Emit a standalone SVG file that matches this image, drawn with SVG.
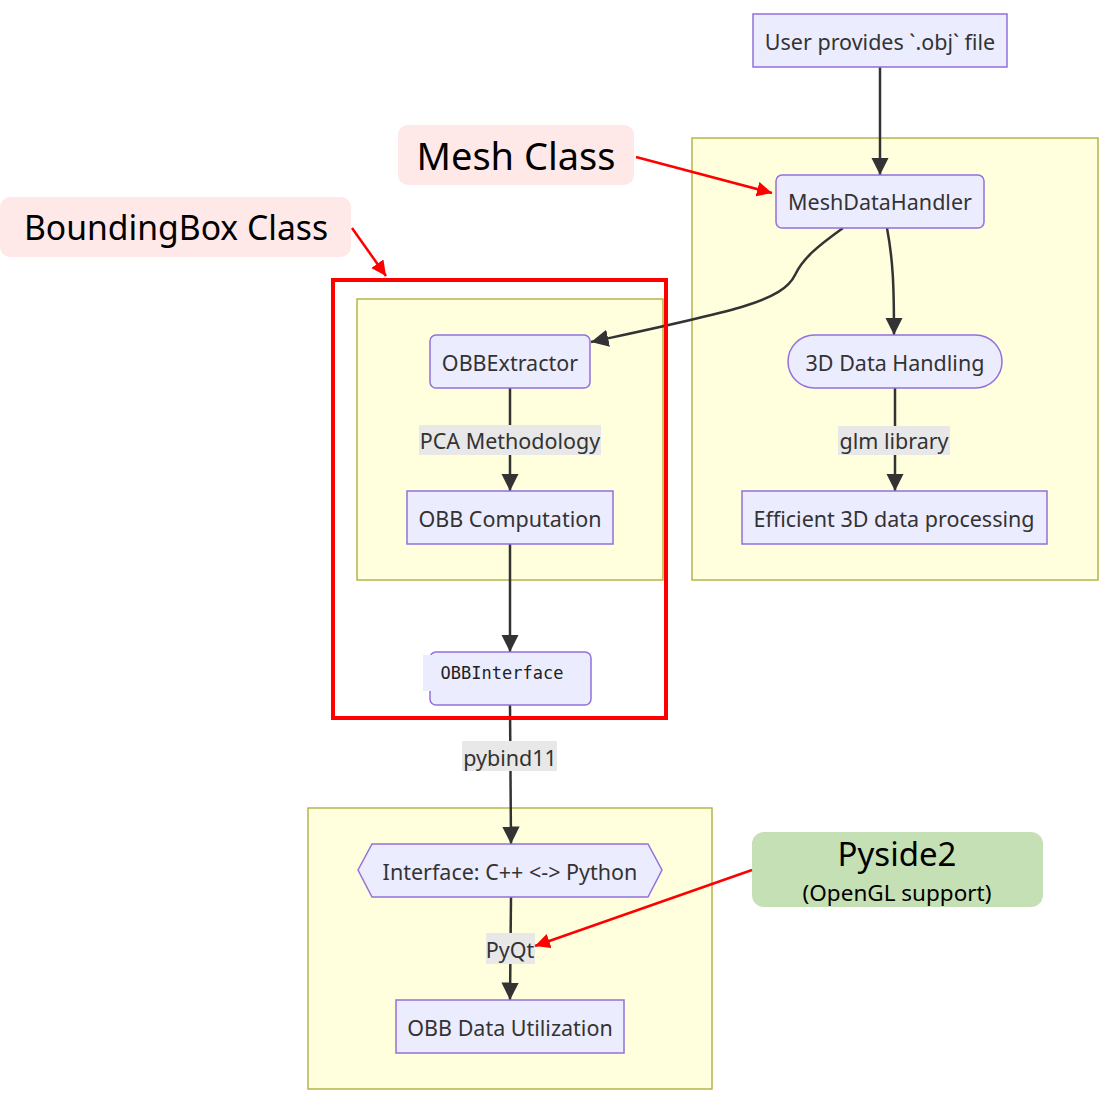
<svg xmlns="http://www.w3.org/2000/svg" width="1111" height="1105" viewBox="0 0 1111 1105">
<style>
.cl{fill:#ffffde;stroke:#aaaa33;stroke-width:1.3}
.nd{fill:#ececff;stroke:#9370db;stroke-width:1.5}
.t{font-family:"Noto Sans","Open Sans",sans-serif;font-size:21.5px;fill:#333;text-anchor:middle;dominant-baseline:central}
.mono{font-family:"DejaVu Sans Mono","Liberation Mono",monospace;font-size:17px;fill:#222;text-anchor:middle;dominant-baseline:central}
.lb{fill:#e8e8e8}
.e{fill:none;stroke:#333;stroke-width:2.5}
.r{fill:none;stroke:#ff0000;stroke-width:2.5}
.big{font-family:"Noto Sans","Open Sans",sans-serif;fill:#000;text-anchor:middle;dominant-baseline:central}
</style>
<defs>
<marker id="ah" viewBox="0 0 10 10" refX="10" refY="5" markerWidth="7" markerHeight="7" markerUnits="strokeWidth" orient="auto">
<path d="M0,0 L10,5 L0,10 z" fill="#333"/>
</marker>
<marker id="rh" viewBox="0 0 10 10" refX="10" refY="5" markerWidth="6" markerHeight="6" markerUnits="strokeWidth" orient="auto">
<path d="M0,0 L10,5 L0,10 z" fill="#ff0000"/>
</marker>
</defs>
<rect width="1111" height="1105" fill="#ffffff"/>
<g id="clusters">
<rect class="cl" x="692" y="138" width="406" height="442"/>
<rect class="cl" x="357" y="299" width="306" height="281"/>
<rect class="cl" x="308" y="808" width="404" height="281"/>
</g>
<g id="connectors">
<path class="e" d="M880,67 L880,175" marker-end="url(#ah)"/>
<path class="e" d="M843,228 C818,246 803,258 795,275 C782,302 730,312 591,342" marker-end="url(#ah)"/>
<path class="e" d="M887,228 C893,260 894,285 894,335" marker-end="url(#ah)"/>
<path class="e" d="M895,388 L895,491" marker-end="url(#ah)"/>
<path class="e" d="M510,388 L510,491" marker-end="url(#ah)"/>
<path class="e" d="M510,544 L510,652" marker-end="url(#ah)"/>
<path class="e" d="M510,705 L511,844" marker-end="url(#ah)"/>
<path class="e" d="M511,897 L510,1000" marker-end="url(#ah)"/>
<rect class="lb" x="838" y="426" width="112" height="29"/>
<text class="t" x="894" y="440">glm library</text>
<rect class="lb" x="419" y="425" width="182" height="30"/>
<text class="t" x="510" y="440">PCA Methodology</text>
<rect class="lb" x="462" y="741" width="95" height="30"/>
<text class="t" x="510" y="757">pybind11</text>
<rect class="lb" x="486" y="933" width="49" height="31"/>
<text class="t" x="510" y="949">PyQt</text>
</g>
<g id="n-user">
<rect class="nd" x="753" y="14" width="254" height="53"/>
<text class="t" x="880" y="41">User provides `.obj` file</text>
</g>
<g id="n-mesh">
<rect class="nd" x="776" y="175" width="208" height="53" rx="6"/>
<text class="t" x="880" y="201">MeshDataHandler</text>
</g>
<g id="n-3d">
<rect class="nd" x="788" y="335" width="214" height="53" rx="26.5"/>
<text class="t" x="895" y="362">3D Data Handling</text>
</g>
<g id="n-eff">
<rect class="nd" x="742" y="491" width="305" height="53"/>
<text class="t" x="894" y="518">Efficient 3D data processing</text>
</g>
<g id="n-obbext">
<rect class="nd" x="430" y="335" width="160" height="53" rx="6"/>
<text class="t" x="510" y="362">OBBExtractor</text>
</g>
<g id="n-obbcomp">
<rect class="nd" x="407" y="491" width="206" height="53"/>
<text class="t" x="510" y="518">OBB Computation</text>
</g>
<g id="n-obbif">
<rect class="nd" x="430" y="652" width="161" height="53" rx="6"/>
<rect x="423" y="655" width="12" height="36" fill="#ececff"/>
<text class="mono" x="502" y="673">OBBInterface</text>
</g>
<g id="n-iface">
<polygon class="nd" points="358,870 372,844 648,844 662,870 648,897 372,897"/>
<text class="t" x="510" y="871">Interface: C++ &lt;-&gt; Python</text>
</g>
<g id="n-util">
<rect class="nd" x="396" y="1000" width="228" height="53"/>
<text class="t" x="510" y="1027">OBB Data Utilization</text>
</g>
<g id="annotations">
<rect x="333" y="280" width="333" height="438" fill="none" stroke="#ff0000" stroke-width="4"/>
<rect x="398" y="125" width="236" height="60" rx="10" fill="#ffe8e8"/>
<text class="big" x="516" y="155" font-size="38">Mesh Class</text>
<rect x="0" y="197" width="351" height="60" rx="10" fill="#ffe8e8"/>
<text class="big" x="176" y="227" font-size="33.7">BoundingBox Class</text>
<rect x="752" y="832" width="291" height="75" rx="12" fill="#c5e0b4"/>
<text class="big" x="897" y="853" font-size="33">Pyside2</text>
<text class="big" x="897" y="892" font-size="22.5">(OpenGL support)</text>
<path class="r" d="M636,157 L772,193" marker-end="url(#rh)"/>
<path class="r" d="M352,228 L386,276" marker-end="url(#rh)"/>
<path class="r" d="M752,870 L535,946" marker-end="url(#rh)"/>
</g>
</svg>
